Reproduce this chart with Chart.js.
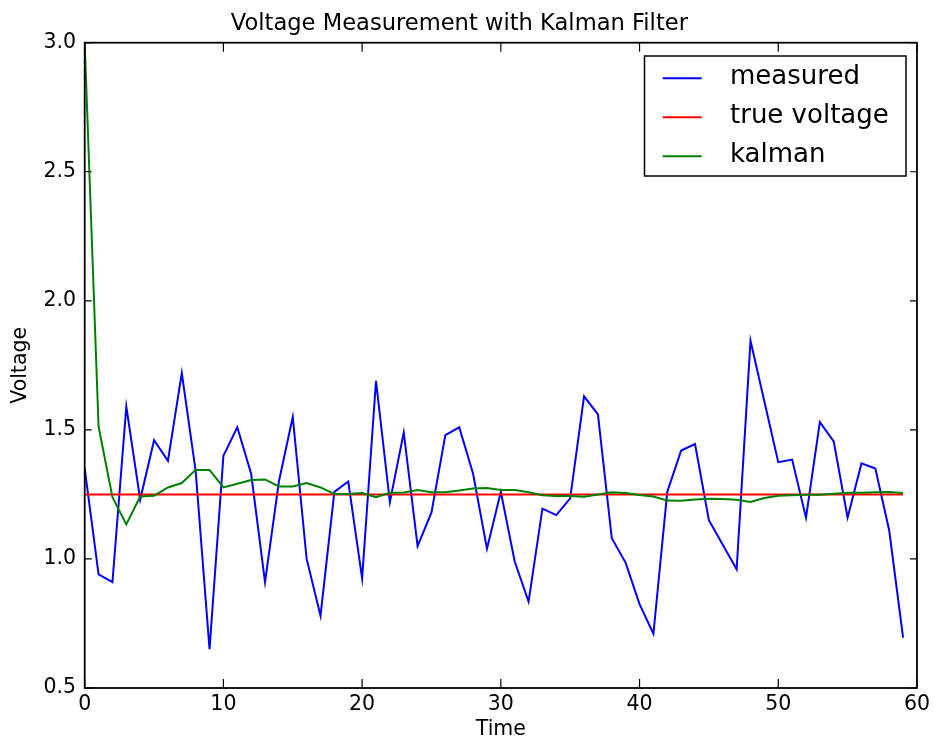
<!DOCTYPE html>
<html>
<head>
<meta charset="utf-8">
<script src="https://cdn.jsdelivr.net/npm/chart.js@4"></script>
<style>
  html, body { margin: 0; padding: 0; background: #ffffff; }
  canvas { display: block; }
</style>
</head>
<body>
<canvas id="c" width="934" height="740"></canvas>
<script>
const timeSteps = [0,1,2,3,4,5,6,7,8,9,10,11,12,13,14,15,16,17,18,19,20,21,22,23,24,25,26,27,28,29,30,31,32,33,34,35,36,37,38,39,40,41,42,43,44,45,46,47,48,49,50,51,52,53,54,55,56,57,58,59];

const measured = [1.35,0.94,0.91,1.59,1.23,1.46,1.38,1.72,1.34,0.65,
                  1.40,1.51,1.33,0.91,1.30,1.55,1.00,0.78,1.26,1.30,
                  0.925,1.69,1.22,1.49,1.05,1.18,1.48,1.51,1.33,1.04,
                  1.26,0.99,0.835,1.195,1.17,1.235,1.63,1.56,1.08,0.985,
                  0.825,0.71,1.26,1.42,1.445,1.15,1.055,0.96,1.845,1.61,
                  1.375,1.385,1.16,1.53,1.455,1.16,1.37,1.35,1.11,0.695];

const trueVoltage = [1.25,1.25,1.25,1.25,1.25,1.25,1.25,1.25,1.25,1.25,
                     1.25,1.25,1.25,1.25,1.25,1.25,1.25,1.25,1.25,1.25,
                     1.25,1.25,1.25,1.25,1.25,1.25,1.25,1.25,1.25,1.25,
                     1.25,1.25,1.25,1.25,1.25,1.25,1.25,1.25,1.25,1.25,
                     1.25,1.25,1.25,1.25,1.25,1.25,1.25,1.25,1.25,1.25,
                     1.25,1.25,1.25,1.25,1.25,1.25,1.25,1.25,1.25,1.25];

const kalman = [3.0,1.513,1.239,1.134,1.242,1.245,1.277,1.294,1.345,1.345,
                1.277,1.291,1.306,1.308,1.281,1.281,1.294,1.277,1.252,1.252,
                1.255,1.239,1.256,1.257,1.267,1.258,1.258,1.265,1.273,1.275,
                1.267,1.267,1.258,1.247,1.244,1.244,1.241,1.250,1.258,1.255,
                1.248,1.242,1.226,1.225,1.230,1.233,1.232,1.229,1.221,1.236,
                1.245,1.247,1.249,1.249,1.253,1.256,1.256,1.258,1.259,1.255];

const seriesLabels = ['measured', 'true voltage', 'kalman'];
const seriesColors = ['#0000ff', '#ff0000', '#008000'];
const xTickValues = [0, 10, 20, 30, 40, 50, 60];
const yTickValues = [0.5, 1.0, 1.5, 2.0, 2.5, 3.0];

const titleText = 'Voltage Measurement with Kalman Filter';
const xTitle = 'Time';
const yTitle = 'Voltage';

const FONT = 'DejaVu Sans';

function toPoints(values) {
  return values.map((v, i) => ({ x: timeSteps[i], y: v }));
}

const frameTicksLegend = {
  id: 'frameTicksLegend',
  afterDraw(chart) {
    const ctx = chart.ctx;
    const a = chart.chartArea;
    const xs = chart.scales.x;
    const ys = chart.scales.y;
    ctx.save();
    // inward tick marks on all four sides
    ctx.strokeStyle = '#000';
    ctx.lineWidth = 1.2;
    ctx.beginPath();
    xTickValues.forEach(v => {
      const px = xs.getPixelForValue(v);
      ctx.moveTo(px, a.bottom); ctx.lineTo(px, a.bottom - 9);
      ctx.moveTo(px, a.top); ctx.lineTo(px, a.top + 9);
    });
    yTickValues.forEach(v => {
      const py = ys.getPixelForValue(v);
      ctx.moveTo(a.left, py); ctx.lineTo(a.left + 7, py);
      ctx.moveTo(a.right, py); ctx.lineTo(a.right - 7, py);
    });
    ctx.stroke();
    // frame
    ctx.lineWidth = 1.8;
    ctx.strokeRect(a.left, a.top, a.right - a.left, a.bottom - a.top);

    // legend box
    const bx = 644.5, by = 56, bw = 261.5, bh = 120;
    ctx.fillStyle = '#fff';
    ctx.fillRect(bx, by, bw, bh);
    ctx.lineWidth = 1.5;
    ctx.strokeStyle = '#000';
    ctx.strokeRect(bx, by, bw, bh);
    ctx.font = '26px "' + FONT + '"';
    ctx.textAlign = 'left';
    ctx.textBaseline = 'middle';
    chart.data.datasets.forEach((ds, i) => {
      const ly = 78.3 + i * 39;
      ctx.strokeStyle = ds.borderColor;
      ctx.lineWidth = 2;
      ctx.beginPath();
      ctx.moveTo(662.7, ly);
      ctx.lineTo(701.7, ly);
      ctx.stroke();
      ctx.fillStyle = '#000';
      ctx.fillText(ds.label, 730, ly - 1);
    });
    ctx.restore();
  }
};

new Chart(document.getElementById('c'), {
  type: 'line',
  data: {
    datasets: [
      { label: seriesLabels[0], data: toPoints(measured), borderColor: seriesColors[0], order: 3 },
      { label: seriesLabels[1], data: toPoints(trueVoltage), borderColor: seriesColors[1], order: 2 },
      { label: seriesLabels[2], data: toPoints(kalman), borderColor: seriesColors[2], order: 1 }
    ].map(d => Object.assign(d, { borderWidth: 2, pointRadius: 0, tension: 0, fill: false, backgroundColor: d.borderColor }))
  },
  options: {
    responsive: false,
    animation: false,
    devicePixelRatio: 1,
    layout: { padding: { left: 0, right: 15.3, top: 0, bottom: 0 } },
    plugins: {
      legend: { display: false },
      tooltip: { enabled: false },
      title: {
        display: true,
        text: titleText,
        color: '#000',
        font: { family: FONT, size: 22.6, weight: 'normal', lineHeight: 1 },
        padding: { top: 13, bottom: 7.1 }
      }
    },
    scales: {
      x: {
        type: 'linear',
        min: 0,
        max: 60,
        afterFit(scale) { scale.height = 52; },
        afterBuildTicks(scale) { scale.ticks = xTickValues.map(v => ({ value: v })); },
        grid: { display: false, drawTicks: false },
        border: { display: false },
        ticks: {
          color: '#000',
          padding: 4,
          maxRotation: 0,
          font: { family: FONT, size: 20.5 },
          callback: v => String(v)
        },
        title: {
          display: true,
          text: xTitle,
          color: '#000',
          font: { family: FONT, size: 20.5, lineHeight: 1 },
          padding: { top: 0, bottom: 0.5 }
        }
      },
      y: {
        type: 'linear',
        min: 0.5,
        max: 3.0,
        afterFit(scale) { scale.width = 84.7; },
        afterBuildTicks(scale) { scale.ticks = yTickValues.map(v => ({ value: v })); },
        grid: { display: false, drawTicks: false },
        border: { display: false },
        ticks: {
          color: '#000',
          padding: 8.7,
          font: { family: FONT, size: 20.5 },
          callback: v => Number(v).toFixed(1)
        },
        title: {
          display: true,
          text: yTitle,
          color: '#000',
          font: { family: FONT, size: 20.5, lineHeight: 1 },
          padding: { top: 10, bottom: 0 }
        }
      }
    }
  },
  plugins: [frameTicksLegend]
});
</script>
</body>
</html>
